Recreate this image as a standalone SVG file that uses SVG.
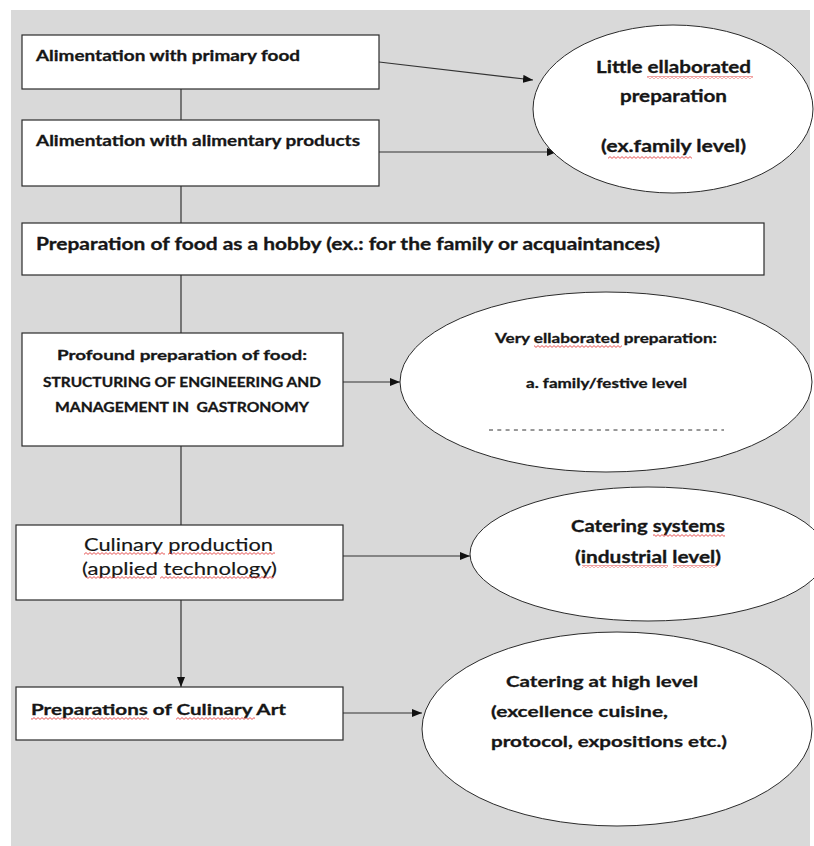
<svg xmlns="http://www.w3.org/2000/svg" width="814" height="846" viewBox="0 0 814 846">
<style>
.bg{fill:#d9d9d9}
.box{fill:#fff;stroke:#2b2b2b;stroke-width:1.2}
.ell{fill:#fff;stroke:#2b2b2b;stroke-width:1}
.ln{stroke:#333;stroke-width:1.2;fill:none}
.t{font-family:Lato,"Open Sans","Liberation Sans",sans-serif;font-weight:bold;fill:#161616;stroke:#161616;stroke-width:0.3}
.n{font-weight:normal;stroke-width:0.15}
</style>
<defs>
<marker id="ah" viewBox="0 0 10 8" refX="10" refY="4" markerWidth="10" markerHeight="8" markerUnits="userSpaceOnUse" orient="auto">
<path d="M0 0 L10 4 L0 8 Z" fill="#111"/>
</marker>
<pattern id="sq" width="4" height="3" patternUnits="userSpaceOnUse">
<path d="M0 2.4 L2 0.6 L4 2.4" stroke="#e02828" stroke-width="0.8" fill="none"/>
</pattern>
</defs>
<rect class="bg" x="11" y="10" width="799" height="836"/>
<g id="connectors">
<line class="ln" x1="181" y1="89" x2="181" y2="120"/>
<line class="ln" x1="181" y1="186" x2="181" y2="223"/>
<line class="ln" x1="181" y1="275" x2="181" y2="333"/>
<line class="ln" x1="181" y1="446" x2="181" y2="525"/>
<line class="ln" x1="181" y1="600" x2="181" y2="687" marker-end="url(#ah)"/>
<line class="ln" x1="379" y1="62" x2="533" y2="80" marker-end="url(#ah)"/>
<line class="ln" x1="379" y1="152" x2="557" y2="152" marker-end="url(#ah)"/>
<line class="ln" x1="343" y1="382" x2="400" y2="382" marker-end="url(#ah)"/>
<line class="ln" x1="343" y1="556" x2="470" y2="556" marker-end="url(#ah)"/>
<line class="ln" x1="343" y1="713" x2="422" y2="713" marker-end="url(#ah)"/>
</g>
<g id="box1">
<rect class="box" x="22" y="35" width="357" height="54"/>
<text class="t" x="36" y="61" font-size="15" textLength="264" lengthAdjust="spacingAndGlyphs">Alimentation with primary food</text>
</g>
<g id="box2">
<rect class="box" x="22" y="120" width="357" height="66"/>
<text class="t" x="36" y="146" font-size="15" textLength="324" lengthAdjust="spacingAndGlyphs">Alimentation with alimentary products</text>
</g>
<g id="box3">
<rect class="box" x="22" y="223" width="742" height="52"/>
<text class="t" x="36" y="250" font-size="16.5" textLength="624" lengthAdjust="spacingAndGlyphs">Preparation of food as a hobby (ex.: for the family or acquaintances)</text>
</g>
<g id="box4">
<rect class="box" x="22" y="333" width="321" height="113"/>
<text class="t" x="57" y="360" font-size="14" textLength="250" lengthAdjust="spacingAndGlyphs">Profound preparation of food:</text>
<text class="t" x="43" y="387" font-size="13" textLength="278" lengthAdjust="spacingAndGlyphs">STRUCTURING OF ENGINEERING AND</text>
<text class="t" x="55" y="412" font-size="13" textLength="254" lengthAdjust="spacingAndGlyphs" style="white-space:pre">MANAGEMENT IN  GASTRONOMY</text>
</g>
<g id="box5">
<rect class="box" x="16" y="525" width="327" height="75"/>
<text class="t n" x="84" y="551" font-size="17" textLength="189" lengthAdjust="spacingAndGlyphs">Culinary production</text>
<text class="t n" x="82" y="575" font-size="17" textLength="195" lengthAdjust="spacingAndGlyphs">(applied technology)</text>
<rect x="84" y="552" width="81" height="3" fill="url(#sq)"/>
<rect x="168" y="552" width="107" height="3" fill="url(#sq)"/>
<rect x="86" y="576" width="69" height="3" fill="url(#sq)"/>
<rect x="160" y="576" width="114" height="3" fill="url(#sq)"/>
</g>
<g id="box6">
<rect class="box" x="16" y="687" width="327" height="53"/>
<text class="t" x="31" y="715" font-size="16" textLength="255" lengthAdjust="spacingAndGlyphs">Preparations of Culinary Art</text>
<rect x="31" y="717" width="118" height="3" fill="url(#sq)"/>
<rect x="176" y="717" width="79" height="3" fill="url(#sq)"/>
</g>
<g id="ellipse1">
<ellipse class="ell" cx="673" cy="109" rx="140" ry="84"/>
<text class="t" x="596" y="73" font-size="17" textLength="155" lengthAdjust="spacingAndGlyphs">Little ellaborated</text>
<text class="t" x="620" y="102" font-size="17" textLength="107" lengthAdjust="spacingAndGlyphs">preparation</text>
<text class="t" x="601" y="152" font-size="17" textLength="145" lengthAdjust="spacingAndGlyphs">(ex.family level)</text>
<rect x="647" y="76" width="106" height="3" fill="url(#sq)"/>
<rect x="608" y="156" width="84" height="3" fill="url(#sq)"/>
</g>
<g id="ellipse2">
<ellipse class="ell" cx="606" cy="382" rx="206" ry="90"/>
<text class="t" x="495" y="343" font-size="13" textLength="222" lengthAdjust="spacingAndGlyphs">Very ellaborated preparation:</text>
<text class="t" x="526" y="388" font-size="13" textLength="161" lengthAdjust="spacingAndGlyphs">a. family/festive level</text>
<line x1="489" y1="430" x2="724" y2="430" stroke="#333" stroke-width="1" stroke-dasharray="4 4.3"/>
<rect x="534" y="345" width="88" height="3" fill="url(#sq)"/>
</g>
<g id="ellipse3">
<ellipse class="ell" cx="648" cy="554" rx="178" ry="67"/>
<text class="t" x="571" y="532" font-size="17" textLength="154" lengthAdjust="spacingAndGlyphs">Catering systems</text>
<text class="t" x="575" y="563" font-size="17" textLength="146" lengthAdjust="spacingAndGlyphs">(industrial level)</text>
<rect x="653" y="534" width="72" height="3" fill="url(#sq)"/>
<rect x="582" y="565" width="86" height="3" fill="url(#sq)"/>
<rect x="673" y="565" width="44" height="3" fill="url(#sq)"/>
</g>
<g id="ellipse4">
<ellipse class="ell" cx="617" cy="729" rx="195" ry="97"/>
<text class="t" x="506" y="687" font-size="16" textLength="192" lengthAdjust="spacingAndGlyphs">Catering at high level</text>
<text class="t" x="491" y="717" font-size="16" textLength="177" lengthAdjust="spacingAndGlyphs">(excellence cuisine,</text>
<text class="t" x="491" y="747" font-size="16" textLength="236" lengthAdjust="spacingAndGlyphs">protocol, expositions etc.)</text>
</g>
</svg>
